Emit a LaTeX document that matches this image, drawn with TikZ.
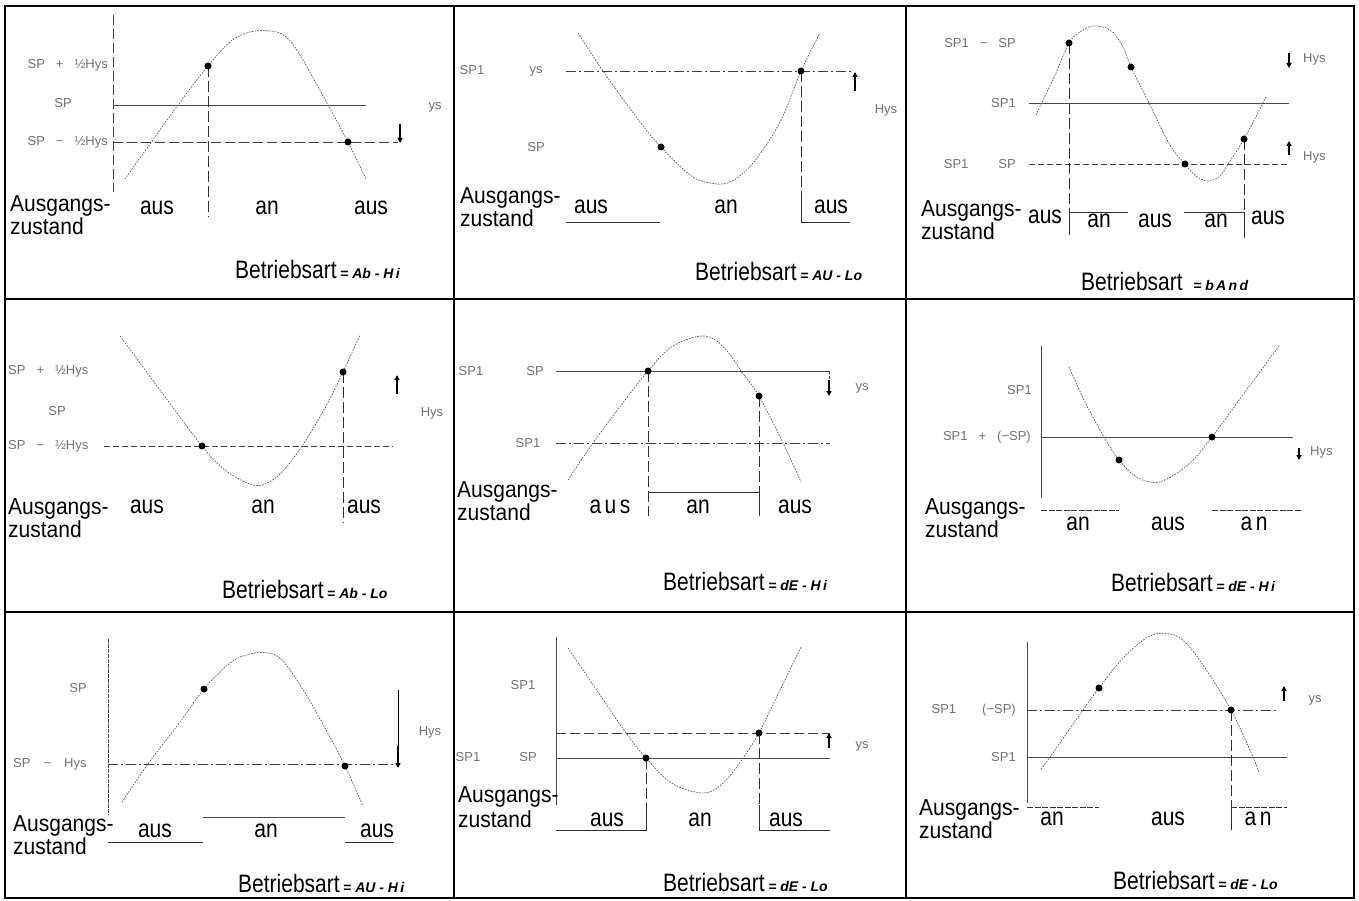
\documentclass[tikz,border=0pt]{standalone}
\usepackage{fontspec}
\usepackage{graphicx}
\setmainfont{Liberation Sans}
\usetikzlibrary{arrows.meta}
\newcommand\bigf{\fontsize{21}{21}\selectfont}
\newcommand\smallf{\fontsize{13}{13}\selectfont}
\newcommand\modef{\fontsize{14}{14}\selectfont\bfseries\itshape}
\newcommand\st[1]{\scalebox{1}[1.2]{#1}}
\newcommand\sth[1]{\scalebox{1}[1.1]{#1}}
\newcommand\gp{\hspace{11pt}}
\newcommand\gz[1]{\vbox{\baselineskip=#1pt\lineskiplimit=-50pt\relax\hbox{\sth{Ausgangs-}}\hbox{\sth{zustand}}}}
\begin{document}
\begin{tikzpicture}[x=1pt,y=-1pt,
  frame/.style={line width=2.4pt, black},
  curve/.style={line width=0.7pt, black!65, dash pattern=on 1.3pt off 1.6pt, line cap=round},
  setline/.style={line width=0.9pt, black!70},
  longdash/.style={line width=0.9pt, black!75, dash pattern=on 10pt off 4pt},
  dashdot/.style={line width=0.9pt, black!75, dash pattern=on 10pt off 3pt on 2pt off 3pt},
  shortdash/.style={line width=0.9pt, black!75, dash pattern=on 6pt off 3pt},
  vdash/.style={line width=0.9pt, black!80, dash pattern=on 11pt off 4pt},
  outline/.style={line width=0.9pt, black!80},
  fdash/.style={line width=0.9pt, black!80, dash pattern=on 6pt off 1.5pt},
  axdot/.style={line width=0.9pt, black!70, dash pattern=on 4pt off 1pt},
  harrow/.style={line width=1.8pt, black, -{Triangle[length=5pt,width=5pt]}},
  big/.style={font=\bigf, inner sep=0pt},
  gtext/.style={font=\bigf, inner sep=0pt, anchor=north west},
  lbl/.style={font=\smallf, text=black!55, inner sep=0pt},
  dotm/.style={fill=black}
]
\useasboundingbox (0,0) rectangle (1359,901);
\fill[white] (0,0) rectangle (1359,901);

% ---------- frame ----------
\draw[frame] (5,6) rectangle (1354,898);
\draw[frame] (454,6) -- (454,898);
\draw[frame] (906,6) -- (906,898);
\draw[frame] (5,299) -- (1354,299);
\draw[frame] (5,612) -- (1354,612);

% ================= Panel 1 : Ab-Hi =================
\draw[longdash] (113,15) -- (113,192);
\node[lbl, anchor=east] (p1a) at (108,65) {SP\gp+\gp½Hys};
\node[lbl] (p1b) at (63,103) {SP};
\node[lbl, anchor=east] (p1c) at (108,142) {SP\gp−\gp½Hys};
\node[lbl] (p1d) at (435,107) {ys};
\draw[setline] (113,105) -- (366,105);
\draw[longdash] (113,142) -- (398,142);
\draw[harrow] (400,124) -- (400,143);
\draw[curve] plot[smooth, tension=0.6] coordinates {(125,179) (178,105) (208,66) (230,42) (250,32) (270,31) (285,36) (300,55) (328,105) (348,142) (366,179)};
\coordinate (p1m1) at (208,66);
\coordinate (p1m2) at (348,142);
\coordinate (p1e1) at (208,217);
\draw[vdash] (p1m1) -- (p1e1);
\fill[dotm] (p1m1) circle (3.5pt);
\fill[dotm] (p1m2) circle (3.5pt);
\node[gtext] (p1g) at (10,195) {\gz{23}};
\node[big, anchor=base] (p1t1) at (157,215) {\st{aus}};
\node[big, anchor=base] (p1t2) at (267,215) {\st{an}};
\node[big, anchor=base] (p1t3) at (371,215) {\st{aus}};
\node[big, anchor=base west] (p1bs) at (235,278) {\st{Betriebsart}\,{\modef =\;Ab\;-\;H\,i}};

% ================= Panel 2 : AU-Lo =================
\node[lbl] (p2a) at (472,70) {SP1};
\node[lbl] (p2b) at (536,71) {ys};
\node[lbl] (p2c) at (536,147) {SP};
\node[lbl] (p2d) at (886,110) {Hys};
\draw[dashdot] (566,71) -- (851,71);
\draw[harrow] (855,91) -- (855,72);
\draw[curve] plot[smooth, tension=0.6] coordinates {(578,33) (603,71) (640,122) (661,147) (690,175) (710,183) (730,182) (753,163) (780,122) (801,71) (820,33)};
\coordinate (p2m1) at (661,147);
\coordinate (p2m2) at (801,71);
\coordinate (p2e2) at (801,222);
\draw[vdash] (p2m2) -- (p2e2);
\draw[outline] (801,200) -- (p2e2) -- (850,222);
\draw[outline] (566,222) -- (660,222);
\fill[dotm] (p2m1) circle (3.5pt);
\fill[dotm] (p2m2) circle (3.5pt);
\node[gtext] (p2g) at (460,187.5) {\gz{23}};
\node[big, anchor=base] (p2t1) at (591,214) {\st{aus}};
\node[big, anchor=base] (p2t2) at (726,214) {\st{an}};
\node[big, anchor=base] (p2t3) at (831,214) {\st{aus}};
\node[big, anchor=base west] (p2bs) at (695,280) {\st{Betriebsart}\,{\modef =\;AU\;-\;Lo}};

% ================= Panel 3 : bAnd =================
\node[lbl, anchor=east] (p3a) at (1016,43) {SP1\gp−\gp SP};
\node[lbl, anchor=east] (p3b) at (1016,103) {SP1};
\node[lbl, anchor=east] (p3c) at (1016,164) {SP1\hspace{30pt}SP};
\node[lbl, anchor=west] (p3d) at (1303,59) {Hys};
\node[lbl, anchor=west] (p3e) at (1303,157) {Hys};
\draw[harrow] (1289,53) -- (1289,68);
\draw[harrow] (1289,155) -- (1289,141);
\draw[setline] (1029,103) -- (1289,103);
\draw[shortdash] (1029,164) -- (1289,164);
\draw[curve] plot[smooth, tension=0.6] coordinates {(1036,115) (1055,75) (1069,43) (1080,32) (1093,26) (1110,30) (1122,45) (1131,67) (1149,103) (1170,145) (1185,164) (1196,176) (1208,181) (1220,176) (1228,164) (1244,139) (1266,97)};
\coordinate (p3m1) at (1069,43);
\coordinate (p3m2) at (1131,67);
\coordinate (p3m3) at (1185,164);
\coordinate (p3m4) at (1244,139);
\coordinate (p3e1) at (1069,238);
\coordinate (p3e4) at (1244,238);
\draw[vdash] (p3m1) -- (p3e1);
\draw[vdash] (p3m4) -- (p3e4);
\draw[outline] (1069,235) -- (1069,212) -- (1128,212);
\draw[outline] (1184,212) -- (1244,212) -- (1244,235);
\fill[dotm] (p3m1) circle (3.5pt);
\fill[dotm] (p3m2) circle (3.5pt);
\fill[dotm] (p3m3) circle (3.5pt);
\fill[dotm] (p3m4) circle (3.5pt);
\node[gtext] (p3g) at (921,200.5) {\gz{23}};
\node[big, anchor=base] (p3t1) at (1045,224) {\st{aus}};
\node[big, anchor=base] (p3t2) at (1099,228) {\st{an}};
\node[big, anchor=base] (p3t3) at (1155,228) {\st{aus}};
\node[big, anchor=base] (p3t4) at (1216,228) {\st{an}};
\node[big, anchor=base] (p3t5) at (1268,225) {\st{aus}};
\node[big, anchor=base west] (p3bs) at (1081,290) {\st{Betriebsart}\enspace{\modef =\;b\,A\,n\,d}};

% ================= Panel 4 : Ab-Lo =================
\node[lbl, anchor=west] (p4a) at (8,371) {SP\gp+\gp½Hys};
\node[lbl] (p4b) at (57,411) {SP};
\node[lbl, anchor=west] (p4c) at (8,446) {SP\gp−\gp½Hys};
\node[lbl] (p4d) at (432,413) {Hys};
\draw[shortdash] (104,446) -- (393,446);
\draw[harrow] (397,394) -- (397,375);
\draw[curve] plot[smooth, tension=0.6] coordinates {(120,336) (160,390) (202,446) (225,470) (250,484) (265,484) (282,472) (302,446) (325,408) (343,372) (360,335)};
\coordinate (p4m1) at (202,446);
\coordinate (p4m2) at (343,372);
\coordinate (p4e2) at (343,523);
\draw[vdash] (p4m2) -- (p4e2);
\fill[dotm] (p4m1) circle (3.5pt);
\fill[dotm] (p4m2) circle (3.5pt);
\node[gtext] (p4g) at (8,498.5) {\gz{23}};
\node[big, anchor=base] (p4t1) at (147,513) {\st{aus}};
\node[big, anchor=base] (p4t2) at (263,513) {\st{an}};
\node[big, anchor=base] (p4t3) at (364,513) {\st{aus}};
\node[big, anchor=base west] (p4bs) at (222,598) {\st{Betriebsart}\,{\modef =\;Ab\;-\;Lo}};

% ================= Panel 5 : dE-Hi =================
\node[lbl] (p5a) at (471,371) {SP1};
\node[lbl] (p5b) at (535,371) {SP};
\node[lbl] (p5c) at (528,443) {SP1};
\node[lbl] (p5d) at (862,388) {ys};
\draw[setline] (556,371) -- (830,371);
\draw[dashdot] (556,443) -- (830,443);
\draw[line width=0.9pt, black!80, dash pattern=on 3pt off 2pt] (829,371) -- (829,382);
\draw[harrow] (829,380) -- (829,396);
\draw[curve] plot[smooth, tension=0.6] coordinates {(568,480) (593,443) (625,400) (648,371) (670,348) (695,337) (712,338) (728,352) (741,371) (759,396) (783,443) (801,482)};
\coordinate (p5m1) at (648,371);
\coordinate (p5m2) at (759,396);
\coordinate (p5e1) at (648,516);
\coordinate (p5e2) at (759,516);
\draw[vdash] (p5m1) -- (p5e1);
\draw[vdash] (p5m2) -- (p5e2);
\draw[outline] (648,495) -- (648,492) -- (759,492) -- (759,516);
\fill[dotm] (p5m1) circle (3.5pt);
\fill[dotm] (p5m2) circle (3.5pt);
\node[gtext] (p5g) at (457,481.5) {\gz{23}};
\node[big, anchor=base] (p5t1) at (610,513) {\st{a\,u\,s}};
\node[big, anchor=base] (p5t2) at (698,513) {\st{an}};
\node[big, anchor=base] (p5t3) at (795,513) {\st{aus}};
\node[big, anchor=base west] (p5bs) at (663,590) {\st{Betriebsart}\,{\modef =\;dE\;-\;H\,i}};

% ================= Panel 6 : dE-Hi =================
\draw[setline] (1041,346) -- (1041,498);
\node[lbl, anchor=east] (p6a) at (1032,390) {SP1};
\node[lbl, anchor=east] (p6b) at (1031,437) {SP1\gp+\gp(−SP)};
\node[lbl, anchor=west] (p6c) at (1310,452) {Hys};
\draw[harrow] (1299,448) -- (1299,460);
\draw[setline] (1041,437) -- (1293,437);
\draw[curve] plot[smooth, tension=0.6] coordinates {(1069,367) (1085,402) (1104,437) (1119,460) (1135,476) (1150,482) (1165,480) (1190,463) (1212,437) (1245,392) (1279,346)};
\coordinate (p6m1) at (1119,460);
\coordinate (p6m2) at (1212,437);
\fill[dotm] (p6m1) circle (3.5pt);
\fill[dotm] (p6m2) circle (3.5pt);
\draw[fdash] (1041,510) -- (1119,510);
\draw[fdash] (1212,510) -- (1302,510);
\node[gtext] (p6g) at (925,498.5) {\gz{23}};
\node[big, anchor=base] (p6t1) at (1078,530) {\st{an}};
\node[big, anchor=base] (p6t2) at (1168,530) {\st{aus}};
\node[big, anchor=base] (p6t3) at (1254,530) {\st{a\,n}};
\node[big, anchor=base west] (p6bs) at (1111,591) {\st{Betriebsart}\,{\modef =\;dE\;-\;H\,i}};

% ================= Panel 7 : AU-Hi =================
\draw[axdot] (108,639) -- (108,815);
\node[lbl] (p7a) at (78,688) {SP};
\node[lbl, anchor=west] (p7b) at (13,764) {SP\hspace{13pt}−\hspace{13pt}Hys};
\node[lbl] (p7c) at (430,732) {Hys};
\draw[dashdot] (108,764) -- (398,764);
\draw[line width=0.9pt, black] (398,690) -- (398,748);
\draw[harrow] (398,746) -- (398,768);
\draw[curve] plot[smooth, tension=0.6] coordinates {(122,802) (148,764) (180,722) (204,689) (230,663) (250,654) (268,653) (282,660) (302,688) (325,728) (345,766) (363,806)};
\coordinate (p7m1) at (204,689);
\coordinate (p7m2) at (345,766);
\fill[dotm] (p7m1) circle (3.5pt);
\fill[dotm] (p7m2) circle (3.5pt);
\draw[outline] (108,842) -- (203,842);
\draw[setline] (203,817) -- (345,817);
\draw[outline] (345,842) -- (394,842);
\node[gtext] (p7g) at (13,815.5) {\gz{23}};
\node[big, anchor=base] (p7t1) at (155,837) {\st{aus}};
\node[big, anchor=base] (p7t2) at (266,837) {\st{an}};
\node[big, anchor=base] (p7t3) at (377,837) {\st{aus}};
\node[big, anchor=base west] (p7bs) at (238,892) {\st{Betriebsart}\,{\modef =\;AU\;-\;H\,i}};

% ================= Panel 8 : dE-Lo =================
\draw[setline] (556,637) -- (556,805);
\node[lbl] (p8a) at (523,685) {SP1};
\node[lbl] (p8b) at (468,757) {SP1};
\node[lbl] (p8c) at (528,757) {SP};
\node[lbl] (p8d) at (862,746) {ys};
\draw[longdash] (556,733) -- (830,733);
\draw[setline] (556,758) -- (830,758);
\draw[harrow] (829,748) -- (829,733);
\draw[curve] plot[smooth, tension=0.6] coordinates {(568,648) (600,695) (626,733) (646,758) (670,782) (695,792) (712,791) (728,778) (743,758) (759,733) (780,690) (801,647)};
\coordinate (p8m1) at (646,758);
\coordinate (p8m2) at (759,733);
\coordinate (p8e1) at (646,830);
\coordinate (p8e2) at (759,830);
\draw[vdash] (p8m1) -- (p8e1);
\draw[vdash] (p8m2) -- (p8e2);
\draw[outline] (556,830) -- (p8e1) -- (646,805);
\draw[outline] (759,805) -- (p8e2) -- (830,830);
\fill[dotm] (p8m1) circle (3.5pt);
\fill[dotm] (p8m2) circle (3.5pt);
\node[gtext] (p8g) at (458,786.5) {\gz{25}};
\node[big, anchor=base] (p8t1) at (607,826) {\st{aus}};
\node[big, anchor=base] (p8t2) at (700,826) {\st{an}};
\node[big, anchor=base] (p8t3) at (786,826) {\st{aus}};
\node[big, anchor=base west] (p8bs) at (663,891) {\st{Betriebsart}\,{\modef =\;dE\;-\;Lo}};

% ================= Panel 9 : dE-Lo =================
\draw[setline] (1027,642) -- (1027,803);
\node[lbl, anchor=east] (p9a) at (1016,710) {SP1\hspace{26pt}(−SP)};
\node[lbl, anchor=east] (p9b) at (1016,757) {SP1};
\node[lbl] (p9c) at (1315,700) {ys};
\draw[harrow] (1284,701) -- (1284,686);
\draw[dashdot] (1027,710) -- (1279,710);
\draw[setline] (1027,757) -- (1287,757);
\draw[curve] plot[smooth, tension=0.6] coordinates {(1041,769) (1050,757) (1083,710) (1099,688) (1125,656) (1150,636) (1170,634) (1185,642) (1205,668) (1231,710) (1253,757) (1259,773)};
\coordinate (p9m1) at (1099,688);
\coordinate (p9m2) at (1231,710);
\coordinate (p9e2) at (1231,830);
\draw[vdash] (p9m2) -- (p9e2);
\fill[dotm] (p9m1) circle (3.5pt);
\fill[dotm] (p9m2) circle (3.5pt);
\draw[fdash] (1027,807) -- (1099,807);
\draw[outline] (1231,830) -- (1231,807);
\draw[fdash] (1231,807) -- (1287,807);
\node[gtext] (p9g) at (919,799.5) {\gz{23}};
\node[big, anchor=base] (p9t1) at (1052,825) {\st{an}};
\node[big, anchor=base] (p9t2) at (1168,825) {\st{aus}};
\node[big, anchor=base] (p9t3) at (1258,825) {\st{a\,n}};
\node[big, anchor=base west] (p9bs) at (1113,889) {\st{Betriebsart}\,{\modef =\;dE\;-\;Lo}};
\end{tikzpicture}
\end{document}
